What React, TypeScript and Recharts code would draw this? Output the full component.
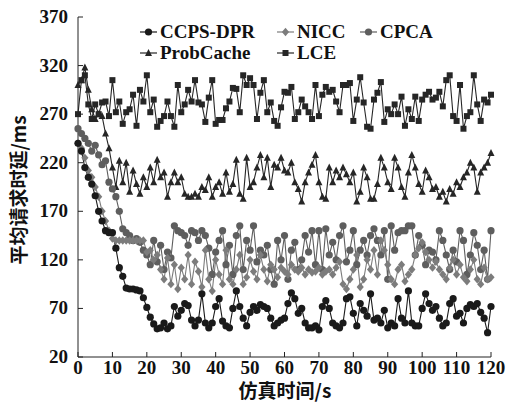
import { Line, LineChart, XAxis, YAxis } from "recharts";

const TIMES = Array.from({ length: 121 }, (_, i) => i);

const CCPS_DPR = [
  240, 232, 215, 205, 198, 186, 170, 160, 150, 148,
  148, 132, 112, 103, 91, 90, 90, 89, 88, 81,
  71, 61, 54, 49, 50, 55, 49, 52, 72, 62,
  68, 75, 73, 58, 52, 58, 85, 55, 50, 55,
  72, 80, 57, 52, 50, 70, 88, 72, 60, 52,
  66, 72, 68, 74, 72, 70, 60, 52, 55, 58,
  60, 75, 86, 80, 65, 70, 55, 50, 50, 52,
  48, 72, 78, 70, 55, 52, 50, 55, 80, 82,
  65, 52, 75, 68, 62, 85, 58, 60, 55, 68,
  50, 55, 52, 80, 60, 55, 88, 55, 52, 52,
  70, 85, 75, 68, 72, 60, 52, 55, 75, 80,
  62, 65, 55, 70, 74, 72, 75, 66, 60, 45,
  72,
];

const NICC = [
  240, 235, 225, 212, 205, 195, 185, 170, 160, 150,
  142, 140, 140, 140, 140, 140, 140, 140, 140, 140,
  128, 130, 120, 125, 110, 100, 122, 95, 115, 90,
  112, 100, 125, 95, 118, 108, 92, 130, 100, 88,
  120, 105, 95, 130, 100, 95, 110, 125, 95, 102,
  120, 108, 100, 125, 110, 98, 115, 110, 102, 112,
  108, 105, 115, 110, 108, 112, 105, 110, 107, 108,
  112, 105, 108, 110, 105, 112, 118, 95, 90, 100,
  110, 125, 92, 100, 120, 110, 130, 105, 140, 130,
  115, 100, 95, 110, 115, 98, 105, 110, 125, 132,
  138, 128, 120, 112, 118, 110, 105, 100, 112, 120,
  105, 115, 102, 98, 110, 120, 100, 95, 112, 100,
  102,
];

const CPCA = [
  255, 250, 245, 240, 232, 238, 228, 218, 222, 200,
  193, 185, 170, 152, 148, 145, 140, 142, 138, 130,
  125, 115, 140, 118, 135, 110, 128, 122, 155, 150,
  148, 145, 135, 150, 148, 140, 150, 145, 132, 105,
  128, 140, 150, 115, 135, 105, 145, 155, 110, 140,
  130, 155, 118, 130, 125, 135, 110, 95, 140, 120,
  145, 100, 130, 138, 110, 120, 145, 128, 150, 115,
  150, 110, 152, 125, 138, 120, 145, 155, 118, 130,
  150, 115, 130, 140, 125, 145, 152, 140, 125, 150,
  100, 155, 130, 148, 150, 150, 155, 155, 125, 145,
  135, 115, 130, 128, 120, 150, 140, 125, 110, 130,
  118, 150, 140, 105, 125, 148, 135, 110, 130, 100,
  150,
];

const PROBCACHE = [
  300, 305, 318, 295, 275, 265, 270, 268, 250, 235,
  215, 195, 222, 200, 220, 190, 212, 198, 188, 205,
  195, 215, 200, 223, 205, 210, 185, 200, 210, 200,
  205, 188, 185, 185, 188, 185, 195, 192, 205, 185,
  195, 200, 188, 210, 190, 198, 223, 188, 183, 225,
  195, 200, 215, 228, 205, 225, 195, 218, 215, 225,
  212, 210, 220, 200, 193, 180, 200, 210, 218, 228,
  200, 185, 183, 215, 200, 212, 205, 215, 208, 200,
  210, 180, 190, 215, 205, 183, 183, 198, 225, 215,
  200, 193, 225, 215, 195, 185, 210, 228, 215, 198,
  190, 212, 205, 193, 195, 185, 190, 180, 193, 188,
  200, 195, 205, 210, 220, 215, 190, 210, 215, 220,
  230,
];

const LCE = [
  270, 305, 310, 280, 265, 280, 270, 282, 283, 268,
  305, 272, 283, 260, 272, 275, 290, 258, 295, 283,
  310, 272, 285, 257, 263, 268, 283, 268, 257, 300,
  272, 280, 295, 283, 305, 282, 280, 262, 287, 305,
  260, 264, 264, 276, 283, 297, 296, 272, 310, 300,
  307, 300, 265, 292, 305, 272, 282, 263, 258, 277,
  293, 292, 298, 265, 272, 285, 278, 272, 265, 300,
  268, 290, 298, 293, 295, 283, 272, 300, 300, 302,
  263, 285, 308, 282, 257, 255, 285, 292, 303, 262,
  275, 270, 280, 270, 288, 258, 275, 265, 288, 263,
  285, 290, 293, 285, 287, 293, 278, 305, 310, 268,
  263, 300, 255, 268, 272, 310, 280, 263, 285, 282,
  290,
];

const X_TICKS = [0, 10, 20, 30, 40, 50, 60, 70, 80, 90, 100, 110, 120];
const Y_TICKS = [20, 70, 120, 170, 220, 270, 320, 370];

const data = TIMES.map((t, i) => ({
  t,
  ccps: CCPS_DPR[i],
  nicc: NICC[i],
  cpca: CPCA[i],
  prob: PROBCACHE[i],
  lce: LCE[i],
}));

const SERIF = "Liberation Serif";
const CJK = "'Noto Sans CJK SC', sans-serif";

type Shape = "circle" | "diamond" | "triangle" | "square";

const SERIES: { key: string; name: string; color: string; shape: Shape }[] = [
  { key: "lce", name: "LCE", color: "#262626", shape: "square" },
  { key: "prob", name: "ProbCache", color: "#262626", shape: "triangle" },
  { key: "cpca", name: "CPCA", color: "#5e5e5e", shape: "circle" },
  { key: "nicc", name: "NICC", color: "#7c7c7c", shape: "diamond" },
  { key: "ccps", name: "CCPS-DPR", color: "#1a1a1a", shape: "circle" },
];

function marker(shape: Shape, cx: number, cy: number, color: string, key?: string) {
  if (shape === "circle") return <circle key={key} cx={cx} cy={cy} r={3.6} fill={color} />;
  if (shape === "square")
    return <rect key={key} x={cx - 3} y={cy - 3} width={6} height={6} fill={color} />;
  if (shape === "triangle")
    return (
      <polygon key={key} points={`${cx},${cy - 4} ${cx + 3.5},${cy + 3} ${cx - 3.5},${cy + 3}`} fill={color} />
    );
  return (
    <polygon key={key} points={`${cx},${cy - 4.2} ${cx + 3.6},${cy} ${cx},${cy + 4.2} ${cx - 3.6},${cy}`} fill={color} />
  );
}

function makeDot(shape: Shape, color: string) {
  return (props: any) => {
    const { cx, cy, index } = props;
    if (cx == null || cy == null) return <g key={index} />;
    return marker(shape, cx, cy, color, `${shape}-${index}`);
  };
}

const tickText = { fontFamily: SERIF, fontWeight: 700, fontSize: 19 };

function XTick(props: any) {
  const { x, y, payload } = props;
  return (
    <g>
      <line x1={x} y1={y} x2={x} y2={y - 5} stroke="#222" />
      <text x={x} y={y + 17} textAnchor="middle" style={tickText} fill="#111">
        {payload.value}
      </text>
    </g>
  );
}

function YTick(props: any) {
  const { x, y, payload } = props;
  return (
    <g>
      <line x1={x} y1={y} x2={x + 5} y2={y} stroke="#222" />
      <text x={x - 10} y={y + 6} textAnchor="end" style={tickText} fill="#111">
        {payload.value}
      </text>
    </g>
  );
}

const LEGEND_ROWS = [
  [
    { name: "CCPS-DPR", x: 0 },
    { name: "NICC", x: 137 },
    { name: "CPCA", x: 220 },
  ],
  [
    { name: "ProbCache", x: 0 },
    { name: "LCE", x: 137 },
  ],
];

function LegendBox() {
  return (
    <svg width={320} height={44} style={{ position: "absolute", left: 140, top: 22 }}>
      {LEGEND_ROWS.map((row, r) =>
        row.map((item) => {
          const s = SERIES.find((d) => d.name === item.name)!;
          const cy = 10 + r * 21;
          return (
            <g key={item.name}>
              <line x1={item.x} y1={cy} x2={item.x + 17} y2={cy} stroke={s.color} strokeWidth={1.2} />
              {marker(s.shape, item.x + 8.5, cy, s.color)}
              <text x={item.x + 20} y={cy + 6} style={tickText} fill="#111">
                {item.name}
              </text>
            </g>
          );
        })
      )}
    </svg>
  );
}

export default function App() {
  return (
    <div style={{ position: "absolute", left: 0, top: 0, width: 517, height: 402, background: "#fff" }}>
      <LineChart width={517} height={402} data={data} margin={{ top: 17, right: 26, bottom: 15, left: 30 }}>
        <XAxis
          dataKey="t"
          type="number"
          domain={[0, 120]}
          ticks={X_TICKS}
          interval={0}
          tickSize={0}
          tickMargin={0}
          tick={<XTick />}
          height={30}
          stroke="#222"
          tickLine={false}
        />
        <YAxis
          type="number"
          domain={[20, 370]}
          ticks={Y_TICKS}
          interval={0}
          tickSize={0}
          tickMargin={0}
          tick={<YTick />}
          width={48}
          stroke="#222"
          tickLine={false}
        />
        {SERIES.map((s) => (
          <Line
            key={s.key}
            type="linear"
            dataKey={s.key}
            name={s.name}
            stroke={s.color}
            strokeWidth={1.1}
            dot={makeDot(s.shape, s.color)}
            activeDot={false}
            isAnimationActive={false}
          />
        ))}
      </LineChart>
      <LegendBox />
      <div
        style={{
          position: "absolute",
          left: 0,
          width: 517,
          top: 378,
          textAlign: "center",
          paddingLeft: 53,
          boxSizing: "border-box",
          fontFamily: CJK,
          fontWeight: "bold",
          fontSize: 19,
          color: "#111",
          lineHeight: "24px",
        }}
      >
        仿真时间/s
      </div>
      <div
        style={{
          position: "absolute",
          left: 18,
          top: 190,
          transform: "translate(-50%, -50%) rotate(-90deg)",
          whiteSpace: "nowrap",
          fontFamily: CJK,
          fontWeight: "bold",
          fontSize: 19,
          color: "#111",
          lineHeight: "24px",
        }}
      >
        平均请求时延/ms
      </div>
    </div>
  );
}
